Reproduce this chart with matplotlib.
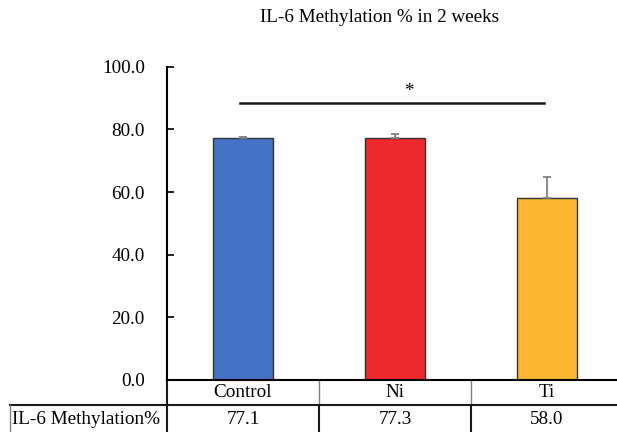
import matplotlib.pyplot as plt
from matplotlib.transforms import blended_transform_factory

plt.rcParams['font.family'] = ['Liberation Serif', 'DejaVu Serif']
plt.rcParams['font.size'] = 13.8

groups = ['Control', 'Ni', 'Ti']
methylation = [77.1, 77.3, 58.0]
errors = [0.55, 1.2, 6.9]
colors = ['#4472C4', '#EE2A2F', '#FBB731']
row_label = 'IL-6 Methylation%'
sig_pair = (0, 2)
sig_level = 88.5

fig = plt.figure(figsize=(6.17, 4.32), dpi=100)
ax = fig.add_axes([167 / 617, 52 / 432, 456 / 617, 313.3 / 432])

x = range(len(groups))
ax.bar(x, methylation, width=0.4, color=colors, edgecolor='#333333', linewidth=1,
       yerr=[[0] * len(errors), errors], error_kw=dict(ecolor='#808080', elinewidth=1.3,
                                                       capsize=3, capthick=1.3))

ax.set_xlim(-0.5, 2.5)
ax.set_ylim(0, 100)
ax.set_yticks(range(0, 101, 20))
ax.set_yticklabels([f'{v:.1f}' for v in range(0, 101, 20)])
ax.tick_params(axis='y', direction='in', length=5, width=1.2, pad=16)
ax.set_xticks([])
for side in ['top', 'right']:
    ax.spines[side].set_visible(False)
ax.spines['left'].set_linewidth(1.5)
ax.spines['bottom'].set_linewidth(1.5)

# significance bar
ax.plot([sig_pair[0] - 0.02, sig_pair[1] - 0.02], [sig_level, sig_level],
        color='#1a1a1a', lw=1.8, clip_on=False)
ax.text(1.09, sig_level + 0.8, '*', ha='center', va='bottom')

fig.text(380 / 617, 1 - 18 / 432, 'IL-6 Methylation % in 2 weeks', ha='center', va='center')

# data table under the axis
trans = blended_transform_factory(ax.transData, ax.transAxes)
r1 = -25 / 313.3
r2 = -60 / 313.3
left_edge = -0.5 - (157 / 456) * 3
for i, (g, v) in enumerate(zip(groups, methylation)):
    ax.text(i, r1 / 2, g, transform=trans, ha='center', va='center')
    ax.text(i, r1 - 14 / 313.3, f'{v:.1f}', transform=trans, ha='center', va='center')
for b in [0.5, 1.5]:
    ax.plot([b, b], [0, r1], transform=trans, color='#808080', lw=1, clip_on=False)
    ax.plot([b, b], [r1, r2], transform=trans, color='#1a1a1a', lw=1.5, clip_on=False)
ax.plot([-0.5, -0.5], [0, r2], transform=trans, color='#1a1a1a', lw=1.5, clip_on=False)
ax.plot([left_edge, 2.5], [r1, r1], transform=trans, color='#1a1a1a', lw=1.5, clip_on=False)
ax.plot([left_edge, left_edge], [r1, r2], transform=trans, color='#808080', lw=1, clip_on=False)
ax.text(left_edge + 0.01, r1 - 14 / 313.3, row_label, transform=trans, ha='left', va='center')

fig.savefig('out.png', dpi=100)
